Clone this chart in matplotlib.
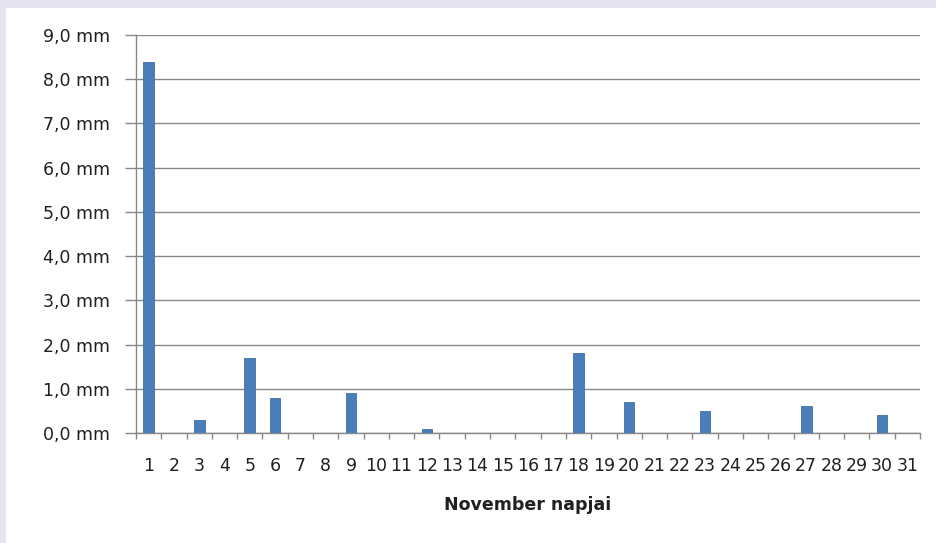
import matplotlib
matplotlib.use("Agg")
import matplotlib.pyplot as plt
from matplotlib.ticker import FuncFormatter, FixedLocator

# Daily precipitation in November (mm)
days = list(range(1, 32))
rain_mm = [8.4, 0, 0.3, 0, 1.7, 0.8, 0, 0, 0.9, 0,
           0, 0.1, 0, 0, 0, 0, 0, 1.8, 0, 0.7,
           0, 0, 0.5, 0, 0, 0, 0.6, 0, 0, 0.4, 0]
day_labels = [str(d) for d in days]
y_ticks = list(range(0, 10))
x_title = "November napjai"

W, H = 936, 543
fig = plt.figure(figsize=(W / 100, H / 100), dpi=100)
fig.patch.set_facecolor("#e6e4f0")

# white chart panel
panel = fig.add_axes([6 / W, 0, 1 - 6 / W, 1 - 8 / H])
panel.set_facecolor("white")
panel.set_xticks([])
panel.set_yticks([])
for s in panel.spines.values():
    s.set_visible(False)

ax = fig.add_axes([136 / W, 110 / H, (920 - 136) / W, 398 / H])
ax.set_facecolor("none")

grid_col = "#888888"
text_col = "#202020"
tick_font = "DejaVu Sans"

ax.bar(days, rain_mm, width=0.42, color="#4a7ebb", edgecolor="#41709f",
       linewidth=0.6, zorder=3)

ax.set_xlim(0.5, 31.5)
ax.set_ylim(0, 9)
ax.set_yticks(y_ticks)
ax.yaxis.set_major_formatter(FuncFormatter(lambda v, p: f"{v:.1f}".replace(".", ",") + " mm"))
ax.grid(axis="y", color=grid_col, linewidth=1.0, zorder=1)

ax.set_xticks(days)
ax.set_xticklabels(day_labels)
ax.xaxis.set_minor_locator(FixedLocator([d + 0.5 for d in range(0, 32)]))
ax.tick_params(axis="x", which="major", length=0, pad=17, labelsize=12.5,
               labelcolor=text_col)
ax.tick_params(axis="x", which="minor", length=4, width=1, color=grid_col,
               direction="out")
ax.tick_params(axis="y", which="major", length=8, width=1, color=grid_col,
               pad=10.5, labelsize=12.5, labelcolor=text_col)
for lbl in ax.get_xticklabels() + ax.get_yticklabels():
    lbl.set_family(tick_font)

for side in ("top", "right"):
    ax.spines[side].set_visible(False)
for side in ("left", "bottom"):
    ax.spines[side].set_color(grid_col)
    ax.spines[side].set_linewidth(1.0)

fig.text((136 + 920) / 2 / W, 1 - 505 / H, x_title, ha="center", va="center",
         fontsize=12.5, fontweight="bold", color=text_col)

fig.savefig("out.png", dpi=100, facecolor=fig.get_facecolor())
